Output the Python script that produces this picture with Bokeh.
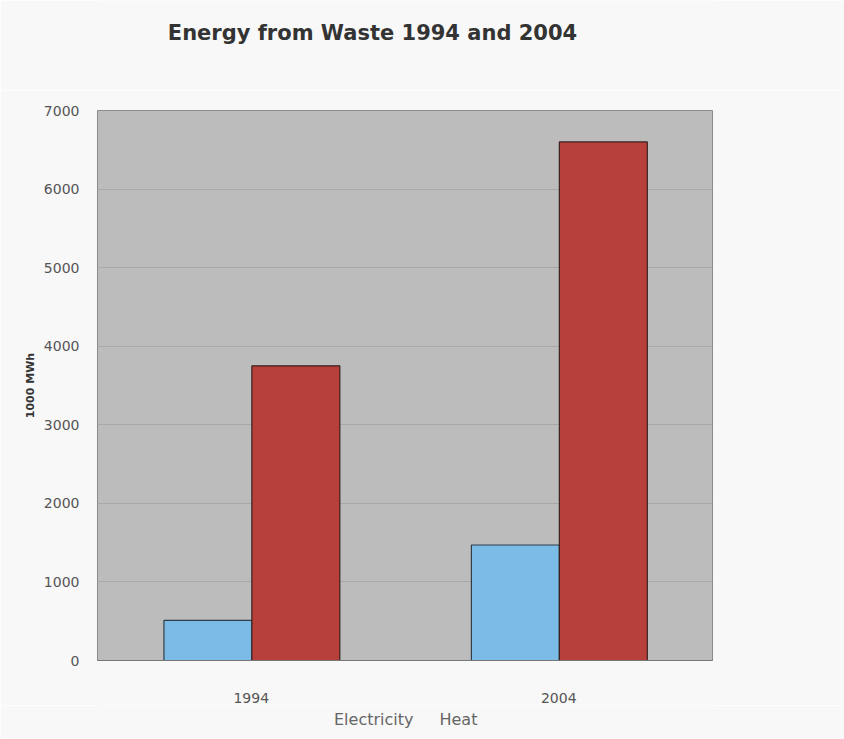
from bokeh.plotting import figure
from bokeh.layouts import column
from bokeh.models import (ColumnDataSource, FactorRange, Range1d, Legend, LegendItem, Label,
                          CDSView, IndexFilter)
from bokeh.transform import dodge
from bokeh.embed import file_html
from bokeh.resources import INLINE

# Energy recovered from waste, in 1000 MWh
years = ["1994", "2004"]
electricity = [510, 1470]
heat = [3750, 6600]
y_ticks = [0, 1000, 2000, 3000, 4000, 5000, 6000, 7000]

src = ColumnDataSource(dict(year=years, electricity=electricity, heat=heat))

FONT = "DejaVu Sans"
BG = "#f8f8f8"
EL_FILL, EL_LINE = "#7bbbe6", "#2f3d4a"
HT_FILL, HT_LINE = "#b8403b", "#3a2020"
BW = 0.286


def blank(height):
    f = figure(width=844, height=height, x_range=FactorRange(*years), y_range=Range1d(0, 1),
               x_axis_type=None, y_axis_type=None, output_backend="svg", toolbar_location=None,
               min_border=0)
    f.grid.visible = False
    f.outline_line_color = None
    f.background_fill_color = BG
    f.border_fill_color = BG
    return f


# --- title strip (the column aligns its frame with the chart frame, which starts at x=97) ---
head = blank(90)
head.add_layout(Label(x=275, y=58, x_units="screen", y_units="screen",
                      text="Energy from Waste 1994 and 2004",
                      text_font=FONT, text_font_size="21px", text_font_style="bold",
                      text_color="#333333", text_align="center", text_baseline="middle"))

# --- chart ---
p = figure(
    frame_width=615, frame_height=550,
    x_range=FactorRange(*years, range_padding=0),
    y_range=Range1d(0, 7000),
    output_backend="svg", toolbar_location=None,
    min_border_left=97, min_border_right=132,
    min_border_top=20, min_border_bottom=45,
)
p.background_fill_color = "#bcbcbc"
p.border_fill_color = BG
p.outline_line_color = "#8a8a8a"
p.outline_line_width = 1

p.vbar(x=dodge("year", -0.141, range=p.x_range), top="electricity", width=BW,
       source=src, fill_color=EL_FILL, line_color=EL_LINE, line_width=1.2)
p.vbar(x=dodge("year", 0.145, range=p.x_range), top="heat", width=BW,
       source=src, fill_color=HT_FILL, line_color=HT_LINE, line_width=1.2)

p.xgrid.grid_line_color = None
p.ygrid.grid_line_color = "#a8a8a8"
p.ygrid.grid_line_width = 1

p.yaxis.ticker = y_ticks
p.yaxis.axis_line_color = None
p.yaxis.major_tick_line_color = None
p.yaxis.minor_tick_line_color = None
p.yaxis.major_label_standoff = 12
p.yaxis.major_label_text_font = FONT
p.yaxis.major_label_text_font_size = "14px"
p.yaxis.major_label_text_color = "#555555"
p.yaxis.axis_label = "1000 MWh"
p.yaxis.axis_label_text_font = FONT
p.yaxis.axis_label_text_font_size = "11px"
p.yaxis.axis_label_text_font_style = "bold"
p.yaxis.axis_label_text_color = "#333333"
p.yaxis.axis_label_standoff = 4

p.xaxis.axis_line_color = "#777777"
p.xaxis.major_tick_line_color = None
p.xaxis.minor_tick_line_color = None
p.xaxis.major_label_standoff = 26
p.xaxis.major_label_text_font = FONT
p.xaxis.major_label_text_font_size = "14px"
p.xaxis.major_label_text_color = "#555555"

# --- legend strip: key renderers share the bar styles but draw no rows ---
foot = blank(34)
no_rows = CDSView(filter=IndexFilter([]))
k_el = foot.vbar(x="year", top="electricity", width=BW, source=src, view=no_rows,
                 fill_color=EL_FILL, line_color=EL_LINE, line_width=1)
k_ht = foot.vbar(x="year", top="heat", width=BW, source=src,
                 view=CDSView(filter=IndexFilter([])),
                 fill_color=HT_FILL, line_color=HT_LINE, line_width=1)
legend = Legend(items=[LegendItem(label="Electricity", renderers=[k_el]),
                       LegendItem(label="Heat", renderers=[k_ht])],
                orientation="horizontal", location=(223, 10),
                background_fill_alpha=0, border_line_color=None,
                label_text_font=FONT, label_text_font_size="16px",
                label_text_color="#666666", glyph_width=12, glyph_height=12,
                label_standoff=2, spacing=12, padding=2, margin=0)
foot.add_layout(legend, "center")

open("out.html", "w").write(file_html(column(head, p, foot, spacing=0), INLINE))
